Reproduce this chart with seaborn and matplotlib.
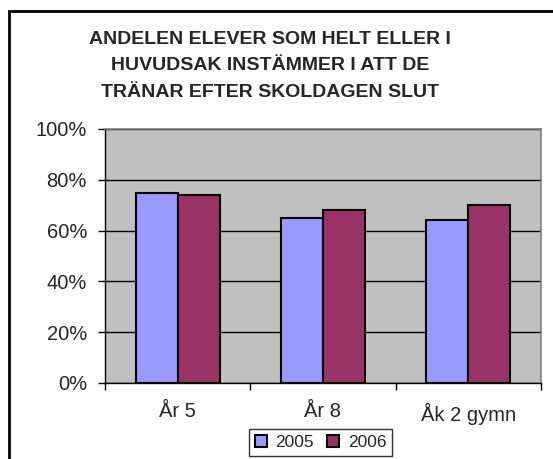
import matplotlib
matplotlib.use("Agg")
import matplotlib.pyplot as plt
import seaborn as sns
import pandas as pd
from matplotlib.patches import Rectangle
from matplotlib.ticker import FixedLocator, FuncFormatter

categories = ["År 5", "År 8", "Åk 2 gymn"]
years = ["2005", "2006"]
values_2005 = [75, 65, 64]
values_2006 = [74, 68, 70]
title = "ANDELEN ELEVER SOM HELT ELLER I\nHUVUDSAK INSTÄMMER I ATT DE\nTRÄNAR EFTER SKOLDAGEN SLUT"
y_ticks = [0, 20, 40, 60, 80, 100]

df = pd.DataFrame({
    "cat": categories * 2,
    "year": [years[0]] * 3 + [years[1]] * 3,
    "val": values_2005 + values_2006,
})

sns.set_style("white")
plt.rcParams["font.family"] = ["Liberation Sans", "DejaVu Sans"]

fig = plt.figure(figsize=(5.53, 4.59), dpi=100)
ax = fig.add_axes([105 / 553, 1 - 383 / 459, 436 / 553, 254 / 459])

palette = {"2005": "#9999FF", "2006": "#993366"}
sns.barplot(data=df, x="cat", y="val", hue="year", palette=palette,
            width=0.58, edgecolor="black", linewidth=1.5, saturation=1,
            ax=ax, legend=True, zorder=3)

ax.set_facecolor("#C0C0C0")
ax.set_xlim(-0.5, 2.5)
ax.set_ylim(0, 100)
ax.set_yticks(y_ticks)
ax.yaxis.set_major_formatter(FuncFormatter(lambda v, p: f"{int(v)}%"))
ax.grid(axis="y", color="black", linewidth=1, zorder=1)
ax.set_axisbelow(True)
ax.set_xlabel("")
ax.set_ylabel("")

ax.xaxis.set_major_locator(FixedLocator([-0.5, 0.5, 1.5, 2.5]))
ax.xaxis.set_minor_locator(FixedLocator([0, 1, 2]))
ax.set_xticklabels([], minor=False)
ax.set_xticklabels(categories, minor=True)
ax.tick_params(axis="x", which="major", length=5, width=1, color="black", direction="out", bottom=True)
ax.tick_params(axis="x", which="minor", length=0, pad=14, labelsize=14.5, bottom=True)
ax.tick_params(axis="y", length=5, width=1, color="black", direction="out", left=True, labelsize=14.5, pad=8)

for side in ["top", "right"]:
    ax.spines[side].set_color("#808080")
    ax.spines[side].set_linewidth(1.2)
for side in ["left", "bottom"]:
    ax.spines[side].set_color("black")
    ax.spines[side].set_linewidth(1)

fig.text(270 / 553, 1 - 66 / 459, title, ha="center", va="center",
         fontsize=14, fontweight="bold", linespacing=1.76)

handles, labels = ax.get_legend_handles_labels()
ax.legend_.remove()
leg = fig.legend(handles, labels, loc="upper center", bbox_to_anchor=(320.5 / 553, 1 - 429 / 459),
                 ncol=2, fontsize=12.5, frameon=True, fancybox=False, edgecolor="black",
                 handlelength=0.7, handleheight=0.7, handletextpad=0.5, columnspacing=0.75,
                 borderpad=0.35, borderaxespad=0)
leg.get_frame().set_linewidth(1)

fig.patches.append(Rectangle((8.5 / 553, -0.1), 1.2, 1 - 10.5 / 459 + 0.1,
                             transform=fig.transFigure, fill=False,
                             edgecolor="black", linewidth=2, zorder=10))

fig.savefig("out.png", dpi=100, facecolor="white")
